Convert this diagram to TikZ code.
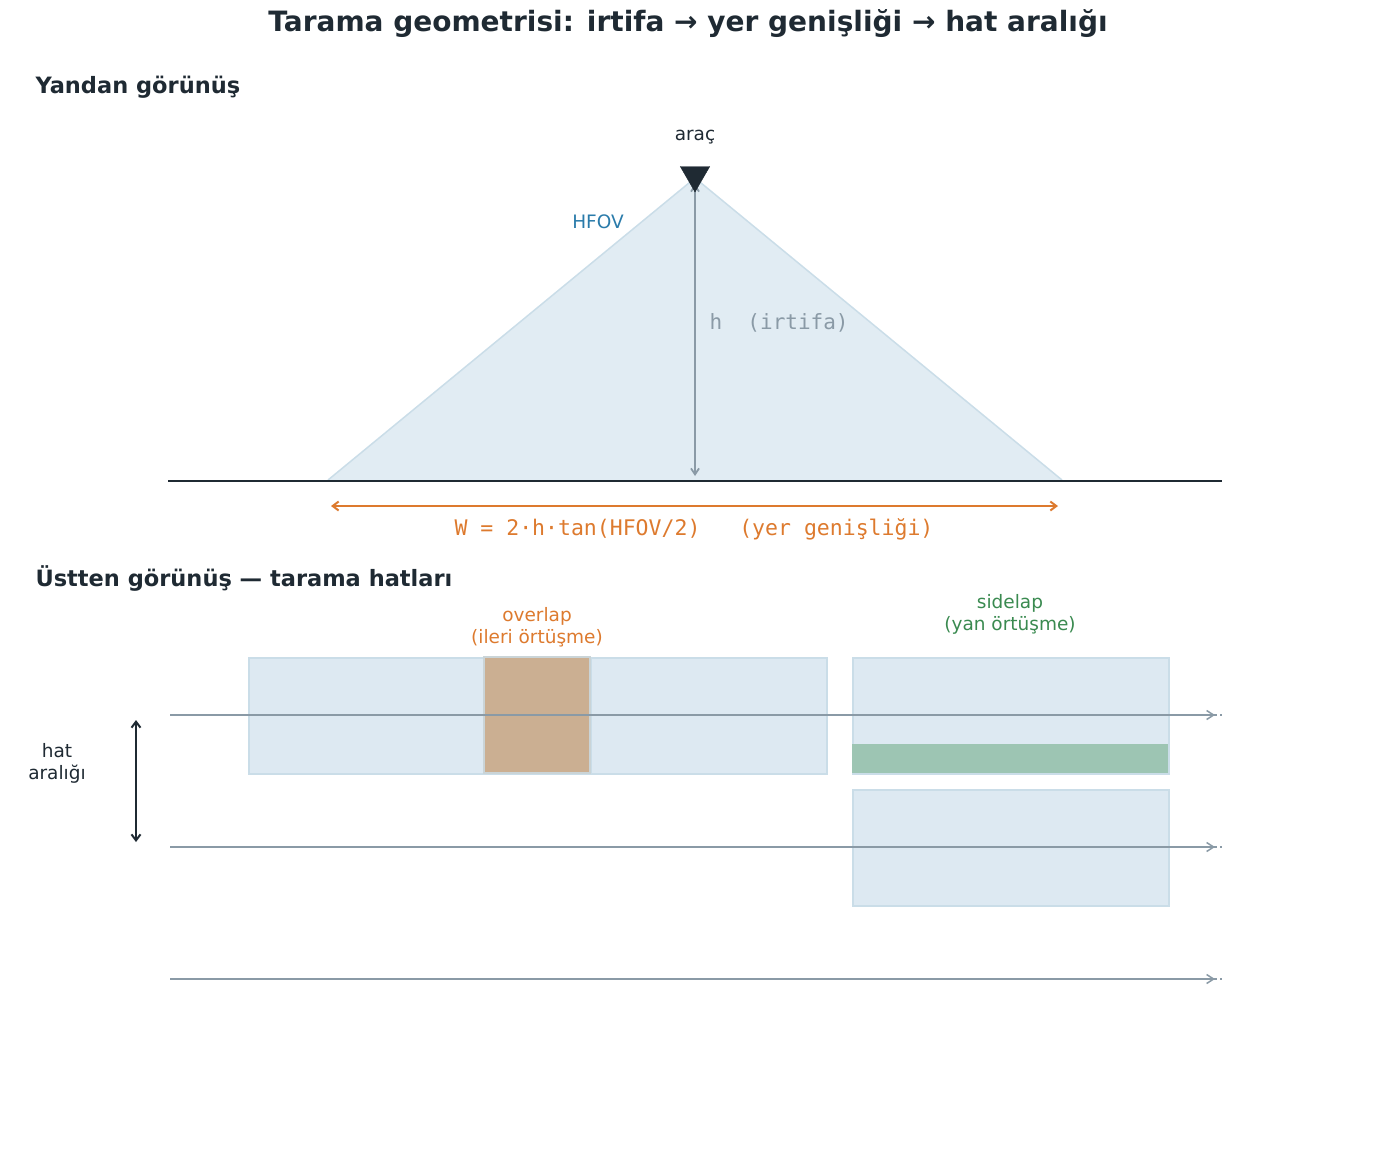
\documentclass[tikz,border=0pt]{standalone}
\usepackage{fontspec}
\setmainfont{DejaVu Sans}
\setmonofont{DejaVu Sans Mono}
\usetikzlibrary{arrows.meta,shapes.geometric}
\definecolor{dark}{HTML}{1F2A33}
\definecolor{gr}{HTML}{8A9AA6}
\definecolor{fov}{HTML}{E1ECF3}
\definecolor{fovl}{HTML}{CADDE8}
\definecolor{org}{HTML}{DD7A2E}
\definecolor{blu}{HTML}{2A7BAA}
\definecolor{grn}{HTML}{3A8A50}
\definecolor{foot}{HTML}{DDE9F2}
\definecolor{brn}{HTML}{CBAF92}
\definecolor{sgr}{HTML}{9DC5B3}
\tikzset{x=1pt,y=-1pt,
 hd/.style={font=\bfseries\fontsize{22.5}{26}\selectfont,text=dark,anchor=west},
 lbl/.style={font=\fontsize{18.5}{22}\selectfont,align=center},
 fp/.style={fill=foot,draw=fovl,line width=1.5pt},
 scan/.style={draw=gr,line width=1.5pt,-{Straight Barb[length=7pt,width=9pt]}},
 scand/.style={draw=gr,line width=1.2pt,dashed}}
\begin{document}
\begin{tikzpicture}
\useasboundingbox (0,0) rectangle (1376,1152);
\node[font=\bfseries\fontsize{28}{32}\selectfont,text=dark] (title) at (688,24) {Tarama geometrisi: irtifa → yer genişliği → hat aralığı};
\node[hd] (h1) at (32,87) {Yandan görünüş};
\node[hd] (h2) at (32,578) {Üstten görünüş — tarama hatları};
% side view
\coordinate (apex) at (695,178);
\coordinate (bl) at (328,480);
\coordinate (br) at (1062,480);
\fill[fov] (apex)--(bl)--(br)--cycle;
\draw[fovl,line width=1.5pt] (bl)--(apex)--(br);
\coordinate (g1) at (168,481); \coordinate (g2) at (1222,481);
\draw[dark,line width=2.5pt] (g1)--(g2);
\coordinate (ht) at (695,184); \coordinate (hb) at (695,476);
\draw[gr,line width=1.8pt,{Straight Barb[length=6pt,width=8pt]}-{Straight Barb[length=6pt,width=8pt]}] (ht)--(hb);
\node[fill=dark,draw=dark,regular polygon,regular polygon sides=3,shape border rotate=180,minimum size=34pt,inner sep=0pt] (veh) at (695,175) {};
\node[lbl,text=dark] (arac) at (695,137) {araç};
\node[lbl,text=blu] (hfov) at (598,222) {HFOV};
\node[font=\ttfamily\fontsize{21}{24}\selectfont,text=gr,anchor=west] (hlab) at (706,323) {h\ \ (irtifa)};
\coordinate (w1) at (331,506); \coordinate (w2) at (1058,506);
\draw[org,line width=2pt,{Straight Barb[length=6pt,width=9pt]}-{Straight Barb[length=6pt,width=9pt]}] (w1)--(w2);
\node[font=\ttfamily\fontsize{21.5}{24}\selectfont,text=org] (wlab) at (694,529) {W = 2·h·tan(HFOV/2)\ \ \ (yer genişliği)};
% top view
\node[fp,minimum width=578pt,minimum height=116pt,anchor=north west] (r1) at (248,657) {};
\node[fp,minimum width=236pt,minimum height=116pt,anchor=north west] (r2) at (590,657) {};
\fill[brn] (484,657) rectangle (590,773);
\draw[fovl!80!brn,line width=1.5pt] (484,657) rectangle (590,773);
\node[fp,minimum width=316pt,minimum height=116pt,anchor=north west] (r3) at (852,657) {};
\fill[sgr] (852,744) rectangle (1168,773);
\node[fp,minimum width=316pt,minimum height=116pt,anchor=north west] (r4) at (852,789) {};
\foreach \y/\n in {715/a,847/b,979/c}{
 \coordinate (s\n) at (170,\y); \coordinate (e\n) at (1215,\y); \coordinate (d\n) at (1222,\y);
 \draw[scand] (s\n)--(d\n);
 \draw[scan] (s\n)--(e\n);
}
\node[lbl,text=org] (ov) at (537,627) {overlap\\(ileri örtüşme)};
\node[lbl,text=grn] (sl) at (1010,614) {sidelap\\(yan örtüşme)};
\coordinate (sp1) at (136,720); \coordinate (sp2) at (136,842);
\draw[dark,line width=2pt,{Straight Barb[length=6pt,width=9pt]}-{Straight Barb[length=6pt,width=9pt]}] (sp1)--(sp2);
\node[lbl,text=dark] (hat) at (57,763) {hat\\aralığı};
\end{tikzpicture}
\end{document}
